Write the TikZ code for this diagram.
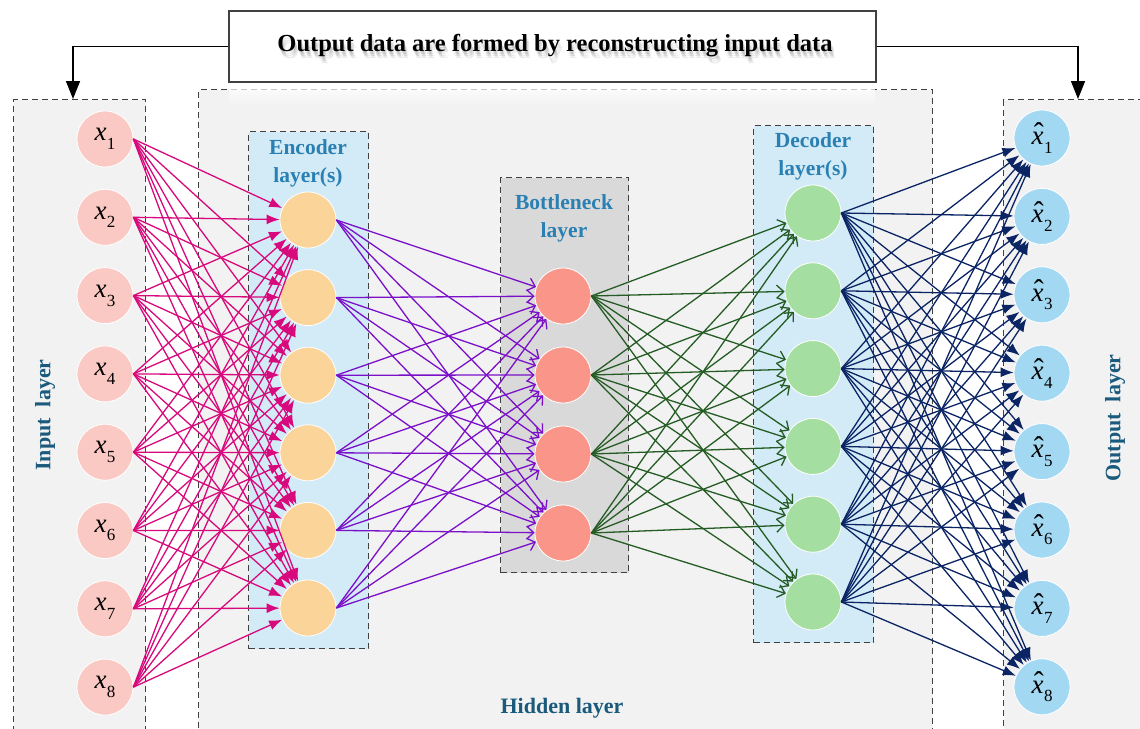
\documentclass[tikz,border=0pt]{standalone}
\usepackage{fontspec}
\setmainfont{Liberation Serif}
\usetikzlibrary{arrows.meta,fadings}

\definecolor{boxgray}{HTML}{F2F2F2}
\definecolor{encfill}{HTML}{D3EBF7}
\definecolor{btlfill}{HTML}{D9D9D9}
\definecolor{dashcol}{HTML}{404040}
\definecolor{inpfill}{HTML}{FBC9C4}
\definecolor{encnode}{HTML}{FBD49A}
\definecolor{btlnode}{HTML}{F99689}
\definecolor{decnode}{HTML}{A4DFA1}
\definecolor{outnode}{HTML}{A3D8F3}
\definecolor{magentaE}{HTML}{D8097C}
\definecolor{purpleE}{HTML}{7B10C9}
\definecolor{greenE}{HTML}{245C24}
\definecolor{navyE}{HTML}{0A2464}
\definecolor{sublab}{HTML}{2A80B3}
\definecolor{laylab}{HTML}{1A5A7C}

\tikzfading[name=fadedown, top color=transparent!0, bottom color=transparent!100]

\newcommand\xv[1]{\textit{x}\kern0.5pt\raisebox{-0.32em}{\fontsize{17}{17}\selectfont #1}}
\newcommand\xh[1]{\rlap{\kern0.09em\raisebox{0.02em}{\fontsize{30}{30}\selectfont ˆ}}\textit{x}\kern0.5pt\raisebox{-0.32em}{\fontsize{17}{17}\selectfont #1}}

\begin{document}
\begin{tikzpicture}[x=1pt,y=-1pt,
  layerbox/.style={draw=dashcol, dash pattern=on 6pt off 4pt, line width=1.2pt},
  neuron/.style={circle, draw=white, line width=0.8pt, minimum size=56pt, inner sep=0pt,
                 font=\fontsize{27}{27}\selectfont},
  sublabel/.style={text=sublab, font=\fontsize{21.5}{28}\selectfont\bfseries, align=center},
  laylabel/.style={text=laylab, font=\fontsize{22}{26}\selectfont\bfseries},
  titlefont/.style={font=\fontsize{24.5}{28}\selectfont\bfseries},
  edgebase/.style={line width=1.3pt},
  magedge/.style={edgebase, draw=magentaE, -{Latex[length=13pt,width=10pt]}},
  purpedge/.style={edgebase, draw=purpleE, -{Straight Barb[length=7pt,width=13pt,line width=1.3pt]}},
  greenedge/.style={edgebase, draw=greenE, -{Straight Barb[length=7pt,width=13pt,line width=1.3pt]}},
  navyedge/.style={edgebase, draw=navyE, -{Latex[length=13pt,width=10pt]}},
  titlearrow/.style={line width=1.5pt, draw=black, -{Triangle[length=18pt,width=14pt]}},
]
\useasboundingbox (0,0) rectangle (1140,728);
\clip (0,0) rectangle (1140,728);
\fill[white] (0,0) rectangle (1140,728);

% outer layer boxes
\node[layerbox, fill=boxgray, minimum width=132pt, minimum height=660pt, anchor=north west, inner sep=0pt] (inbox) at (13,99) {};
\node[layerbox, fill=boxgray, minimum width=734pt, minimum height=670pt, anchor=north west, inner sep=0pt] (hidbox) at (198,89) {};
\node[layerbox, fill=boxgray, minimum width=160pt, minimum height=660pt, anchor=north west, inner sep=0pt] (outbox) at (1003,99) {};

% inner boxes
\node[layerbox, fill=encfill, minimum width=120pt, minimum height=517pt, anchor=north west, inner sep=0pt] (encbox) at (248,131) {};
\node[layerbox, fill=btlfill, minimum width=128pt, minimum height=395pt, anchor=north west, inner sep=0pt] (btlbox) at (500,177) {};
\node[layerbox, fill=encfill, minimum width=120pt, minimum height=517pt, anchor=north west, inner sep=0pt] (decbox) at (753,125) {};

% fade under title
\fill[white, path fading=fadedown] (229,82) rectangle (876,106);

% title box
\node[draw=dashcol, line width=1.2pt, fill=white, minimum width=647pt, minimum height=71pt, inner sep=0pt] (title) at (552.5,46.5) {};
\foreach \k/\dx/\dy in {1/1/3, 2/2/5, 3/3/7}
  \node[text=black, opacity=0.08, titlefont] (ts\k) at (555+\dx,46+\dy) {Output data are formed by reconstructing input data};
\node[text=black, titlefont] (titletext) at (555,46) {Output data are formed by reconstructing input data};

\coordinate (intop) at (73,99);
\coordinate (outtop) at (1078,99);
\draw[titlearrow] (title.west) -| (intop);
\draw[titlearrow] (title.east) -| (outtop);

% labels
\node[laylabel, rotate=90] (inlab) at (45,415) {Input\ \ layer};
\node[laylabel, rotate=90] (outlab) at (1115,418) {Output\ \ layer};
\node[laylabel] (hidlab) at (562,708) {Hidden layer};
\node[sublabel] (enclab) at (308,163) {Encoder\\layer(s)};
\node[sublabel] (btllab) at (564,218) {Bottleneck\\layer};
\node[sublabel] (declab) at (813,156) {Decoder\\layer(s)};

% neurons
\foreach \i in {1,...,8} {
  \node[neuron, fill=inpfill] (in\i) at (105,{139+78.3*(\i-1)}) {\xv{\i}};
  \node[neuron, fill=outnode] (out\i) at (1042,{138+78.4*(\i-1)}) {\xh{\i}};
}
\foreach \j in {1,...,6} {
  \node[neuron, fill=encnode] (en\j) at (308,{220+77.6*(\j-1)}) {};
  \node[neuron, fill=decnode] (de\j) at (813,{213+77.8*(\j-1)}) {};
}
\foreach \k in {1,...,4}
  \node[neuron, fill=btlnode] (bn\k) at (563,{296+79*(\k-1)}) {};

% connectors
\foreach \i in {1,...,8} \foreach \j in {1,...,6}
  \draw[magedge] (in\i.east) -- (en\j);
\foreach \j in {1,...,6} \foreach \k in {1,...,4}
  \draw[purpedge] (en\j.east) -- (bn\k);
\foreach \k in {1,...,4} \foreach \j in {1,...,6}
  \draw[greenedge] (bn\k.east) -- (de\j);
\foreach \j in {1,...,6} \foreach \i in {1,...,8}
  \draw[navyedge] (de\j.east) -- (out\i);
\end{tikzpicture}
\end{document}
